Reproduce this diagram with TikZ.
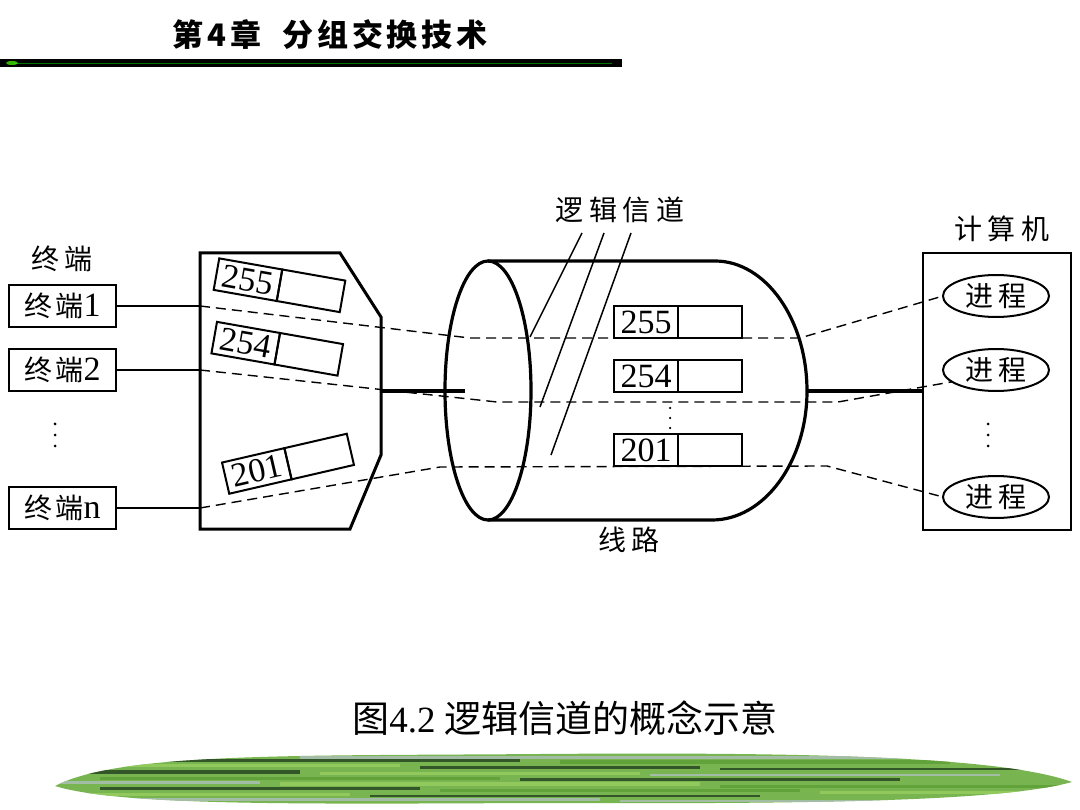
\documentclass[tikz,border=0pt]{standalone}
\usepackage{fontspec}
\setmainfont{Liberation Serif}
\newfontfamily\cjk[LetterSpace=20]{Noto Sans CJK SC}
\newfontfamily\cjkt[LetterSpace=12]{Noto Sans CJK SC}
\newfontfamily\cjkn{Noto Sans CJK SC}
\newfontfamily\hdr[LetterSpace=12]{Noto Sans CJK SC}
\usetikzlibrary{shapes.geometric}
\definecolor{dkg}{RGB}{40,70,35}
\definecolor{mdg}{RGB}{95,160,55}
\definecolor{ltg}{RGB}{150,205,95}
\definecolor{gry}{RGB}{170,190,180}
\definecolor{bnd}{RGB}{120,180,80}
\begin{document}
\begin{tikzpicture}[x=1pt,y=-1pt,
  thickline/.style={line width=4pt},
  bodyline/.style={line width=3.2pt},
  thinline/.style={line width=1.5pt},
  dashline/.style={line width=1.4pt, dash pattern=on 10pt off 6pt},
  term/.style={draw, line width=2.5pt, minimum width=107, minimum height=42, inner sep=0, outer sep=0, font=\fontsize{34}{34}\selectfont},
  cell/.style={draw, line width=2pt, minimum width=64, minimum height=32, inner sep=0, outer sep=0, font=\fontsize{34}{34}\selectfont},
  proc/.style={ellipse, draw, line width=2pt, minimum width=106, minimum height=42, inner sep=0, outer sep=0, font=\fontsize{28}{30}\selectfont\cjk},
  lbl/.style={inner sep=0, font=\fontsize{28}{30}\selectfont\cjk},
  dotc/.style={circle, fill, inner sep=0, minimum size=3pt}]
\useasboundingbox (0,0) rectangle (1080,810);

% header
\node[inner sep=0, font=\fontsize{31}{34}\selectfont\hdr\bfseries] (hdr) at (330,35) {第4章\ \ 分组交换技术};
\fill (0,59) rectangle (622,67);
\draw[green!45!black, line width=0.6pt] (14,63) -- (612,63);
\fill[green!70!yellow, opacity=0.7] (12,63) ellipse [x radius=6, y radius=2];

% terminals
\node[lbl] (tl) at (62,259) {终端};
\node[term] (t1) at (62.5,306) {{\fontsize{28}{30}\selectfont\cjkt 终端}1};
\node[term] (t2) at (62.5,370) {{\fontsize{28}{30}\selectfont\cjkt 终端}2};
\node[dotc] (td1) at (55,424) {};
\node[dotc] (td2) at (55,435) {};
\node[dotc] (td3) at (55,446) {};
\node[term] (tn) at (62.5,508) {{\fontsize{28}{30}\selectfont\cjkt 终端}n};

% multiplexer
\coordinate (m1) at (200,253);
\coordinate (m2) at (340,253);
\coordinate (m3) at (381,317);
\coordinate (m4) at (381,455);
\coordinate (m5) at (350,529);
\coordinate (m6) at (200,529);
\draw[line width=3pt, line join=miter] (m1) -- (m2) -- (m3) -- (m4) -- (m5) -- (m6) -- cycle;

\begin{scope}[shift={(279.5,285.25)}, rotate=-10, transform shape]
  \node[cell, anchor=east] (a255) at (0,0) {255};
  \node[cell, anchor=west] (b255) at (0,0) {};
\end{scope}
\begin{scope}[shift={(277.25,348.75)}, rotate=-10, transform shape]
  \node[cell, anchor=east] (a254) at (0,0) {254};
  \node[cell, anchor=west] (b254) at (0,0) {};
\end{scope}
\begin{scope}[shift={(288,463.75)}, rotate=13, transform shape]
  \node[cell, anchor=east] (a201) at (0,0) {201};
  \node[cell, anchor=west] (b201) at (0,0) {};
\end{scope}

% cylinder
\node[ellipse, draw, line width=3.2pt, minimum width=86, minimum height=259, inner sep=0, outer sep=0] (cyl) at (488,390.5) {};
\coordinate (ctop) at (715,261);
\coordinate (cright) at (807,391);
\coordinate (cbot) at (712,520);
\draw[bodyline] (cyl.north) -- (ctop) .. controls (765.8,261) and (807,319.7) .. (cright)
   .. controls (807,462) and (764,520) .. (cbot) -- (cyl.south);

\node[cell, anchor=east] (c255a) at (678,322) {255};
\node[cell, anchor=west] (c255b) at (678,322) {};
\node[cell, anchor=east] (c254a) at (678,376) {254};
\node[cell, anchor=west] (c254b) at (678,376) {};
\node[dotc, minimum size=2.5pt] (cd1) at (670,408) {};
\node[dotc, minimum size=2.5pt] (cd2) at (670,418) {};
\node[dotc, minimum size=2.5pt] (cd3) at (670,428) {};
\node[cell, anchor=east] (c201a) at (678,450) {201};
\node[cell, anchor=west] (c201b) at (678,450) {};

\node[lbl] (lc) at (620,210) {逻辑信道};
\node[lbl] (ll) at (629,540) {线路};
\coordinate (q1) at (582,233);
\coordinate (q2) at (604,233);
\coordinate (q3) at (631,233);
\coordinate (r1) at (530,337);
\coordinate (r2) at (540,407);
\coordinate (r3) at (551,455);
\draw[thinline] (q1) -- (r1);
\draw[thinline] (q2) -- (r2);
\draw[thinline] (q3) -- (r3);

% computer
\node[draw, line width=2.6pt, minimum width=148, minimum height=277, inner sep=0, outer sep=0] (comp) at (997,391.5) {};
\node[lbl] (compl) at (1002,229) {计算机};
\node[proc] (e1) at (996,296) {进程};
\node[proc] (e2) at (996,370) {进程};
\node[dotc] (ed1) at (988,424) {};
\node[dotc] (ed2) at (988,435) {};
\node[dotc] (ed3) at (988,446) {};
\node[proc] (e3) at (996,497) {进程};

% connections
\coordinate (p1) at (200,306);
\coordinate (p2) at (200,370);
\coordinate (p3) at (200,508);
\draw[thinline] (t1.east) -- (p1);
\draw[thinline] (t2.east) -- (p2);
\draw[thinline] (tn.east) -- (p3);
\draw[dashline] (p1) -- (470,338) -- (800,338) -- (e1.west);
\draw[dashline] (p2) -- (497,402) -- (838,402) -- (e2.195);
\draw[dashline] (p3) -- (440,467) -- (827,466) -- (e3.west);

\coordinate (k1) at (381,391);
\coordinate (k2) at (465,391);
\draw[thickline] (k1) -- (k2);
\draw[thickline] (cright) -- (comp.west |- cright);

% caption
\node[inner sep=0, font=\fontsize{37}{40}\selectfont] (cap) at (565,718) {{\cjkn 图}4.2\ {\cjkn 逻辑信道的概念示意}};

% decorative band
\begin{scope}
  \clip (55,786) .. controls (120,752) and (300,756) .. (540,754)
        .. controls (800,752) and (1000,756) .. (1072,782)
        .. controls (1000,802) and (800,804) .. (540,803)
        .. controls (300,804) and (120,806) .. (55,786);
  \fill[bnd] (0,740) rectangle (1080,810);
  \foreach \yy/\xa/\xb/\cc/\ww in {
     757/300/1000/gry/3, 760/100/520/dkg/3, 762/560/950/mdg/4,
     765/80/400/ltg/3, 767/420/700/dkg/3, 769/720/1050/dkg/2.5,
     772/60/300/dkg/4, 773/320/640/ltg/3, 775/650/1000/gry/2,
     778/100/500/mdg/3, 779/520/900/dkg/3, 782/60/260/gry/3,
     784/280/700/ltg/4, 786/720/1060/mdg/3, 788/100/420/dkg/3,
     790/440/800/mdg/3, 792/820/1050/ltg/3, 794/60/350/ltg/3,
     796/370/760/dkg/2.5, 799/100/600/gry/3, 801/620/1000/gry/2}
    {\draw[\cc, line width=\ww pt, opacity=0.85] (\xa,\yy) -- (\xb,\yy);}
\end{scope}
\end{tikzpicture}
\end{document}
